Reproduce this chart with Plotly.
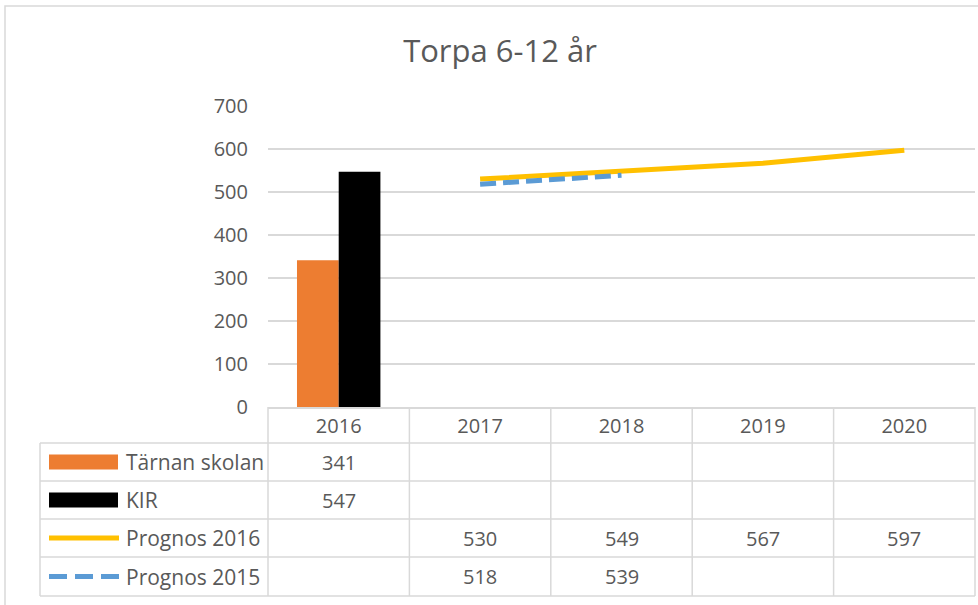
import plotly.graph_objects as go

# ---- data ----
years = ["2016", "2017", "2018", "2019", "2020"]
tarnan = [341, None, None, None, None]
kir = [547, None, None, None, None]
prognos_2016 = [None, 530, 549, 567, 597]
prognos_2015 = [None, 518, 539, None, None]
series_names = ["Tärnan skolan", "KIR", "Prognos 2016", "Prognos 2015"]
title_text = "Torpa 6-12 år"

W, H = 978, 605
L, R, T, B = 268, 975, 106, 407  # plot area in px
ML, MR, MT, MB = L, W - R, T, H - B
PW, PH = R - L, B - T

def px(xp):
    return (xp - L) / PW

def py(yp):
    return (B - yp) / PH

TXT = "#595959"
GRID = "#d9d9d9"
FONT = "Open Sans"

colors = {"Tärnan skolan": "#ED7D31", "KIR": "#000000",
          "Prognos 2016": "#FFC000", "Prognos 2015": "#5B9BD5"}

fig = go.Figure()
fig.add_bar(x=years, y=tarnan, name=series_names[0], marker_color=colors["Tärnan skolan"],
            marker_line_width=0)
fig.add_bar(x=years, y=kir, name=series_names[1], marker_color=colors["KIR"],
            marker_line_width=0)
fig.add_scatter(x=years, y=prognos_2016, name=series_names[2], mode="lines",
                line=dict(color=colors["Prognos 2016"], width=5))
fig.add_scatter(x=years, y=prognos_2015, name=series_names[3], mode="lines",
                line=dict(color=colors["Prognos 2015"], width=5, dash="16px,7px"))

shapes = []
annotations = []

# outer chart border
shapes.append(dict(type="rect", xref="paper", yref="paper", x0=px(5), x1=px(990),
                   y0=py(6), y1=py(620), line=dict(color=GRID, width=1.5), layer="below"))

# table geometry
row_bounds = [443, 481, 519, 557, 596]
ncat = len(years)
col_edges = [L + i * PW / ncat for i in range(ncat + 1)]
table_left = 40

for yb in row_bounds:
    shapes.append(dict(type="line", xref="paper", yref="paper", x0=px(table_left), x1=px(R),
                       y0=py(yb), y1=py(yb), line=dict(color=GRID, width=1.5)))
for xe in col_edges:
    shapes.append(dict(type="line", xref="paper", yref="paper", x0=px(xe), x1=px(xe),
                       y0=py(B), y1=py(row_bounds[-1]), line=dict(color=GRID, width=1.5)))
shapes.append(dict(type="line", xref="paper", yref="paper", x0=px(table_left), x1=px(table_left),
                   y0=py(row_bounds[0]), y1=py(row_bounds[-1]), line=dict(color=GRID, width=1.5)))

all_series = [tarnan, kir, prognos_2016, prognos_2015]
for r, (name, vals) in enumerate(zip(series_names, all_series)):
    yc = (row_bounds[r] + row_bounds[r + 1]) / 2
    if r < 2:
        shapes.append(dict(type="rect", xref="paper", yref="paper", x0=px(49), x1=px(118),
                           y0=py(yc - 7.5), y1=py(yc + 7.5), fillcolor=colors[name],
                           line=dict(width=0)))
    else:
        shapes.append(dict(type="line", xref="paper", yref="paper", x0=px(49), x1=px(119),
                           y0=py(yc), y1=py(yc),
                           line=dict(color=colors[name], width=5,
                                     dash="solid" if r == 2 else "18px,8px")))
    annotations.append(dict(text=name, xref="paper", yref="paper", x=px(124), y=py(yc),
                            xanchor="left", yanchor="middle", showarrow=False,
                            font=dict(family=FONT, size=21, color=TXT)))
    for i, v in enumerate(vals):
        if v is not None:
            annotations.append(dict(text=str(v), xref="paper", yref="paper",
                                    x=(i + 0.5) / ncat, y=py(yc),
                                    xanchor="center", yanchor="middle", showarrow=False,
                                    font=dict(family=FONT, size=20, color=TXT)))

fig.update_layout(
    width=W, height=H,
    margin=dict(l=ML, r=MR, t=MT, b=MB, pad=0),
    paper_bgcolor="white", plot_bgcolor="white",
    barmode="group", bargap=0.41, bargroupgap=0,
    showlegend=False,
    title=dict(text=title_text, x=500 / W, y=1 - 51 / H, xanchor="center", yanchor="middle",
               font=dict(family=FONT, size=31, color=TXT)),
    xaxis=dict(type="category", categoryorder="array", categoryarray=years,
               showline=True, linecolor=GRID, linewidth=1.5, showgrid=False,
               ticks="", tickfont=dict(family=FONT, size=20, color=TXT), range=[-0.5, 4.5]),
    yaxis=dict(range=[0, 700], dtick=100, showgrid=True, gridcolor=GRID, gridwidth=1.5,
               zeroline=False, showline=False, ticks="outside", ticklen=15,
               tickcolor="rgba(0,0,0,0)",
               tickfont=dict(family=FONT, size=20, color=TXT)),
    shapes=shapes, annotations=annotations,
)

fig.write_html("out.html", config={"displayModeBar": False},
               post_script="document.body.style.margin='0';")
